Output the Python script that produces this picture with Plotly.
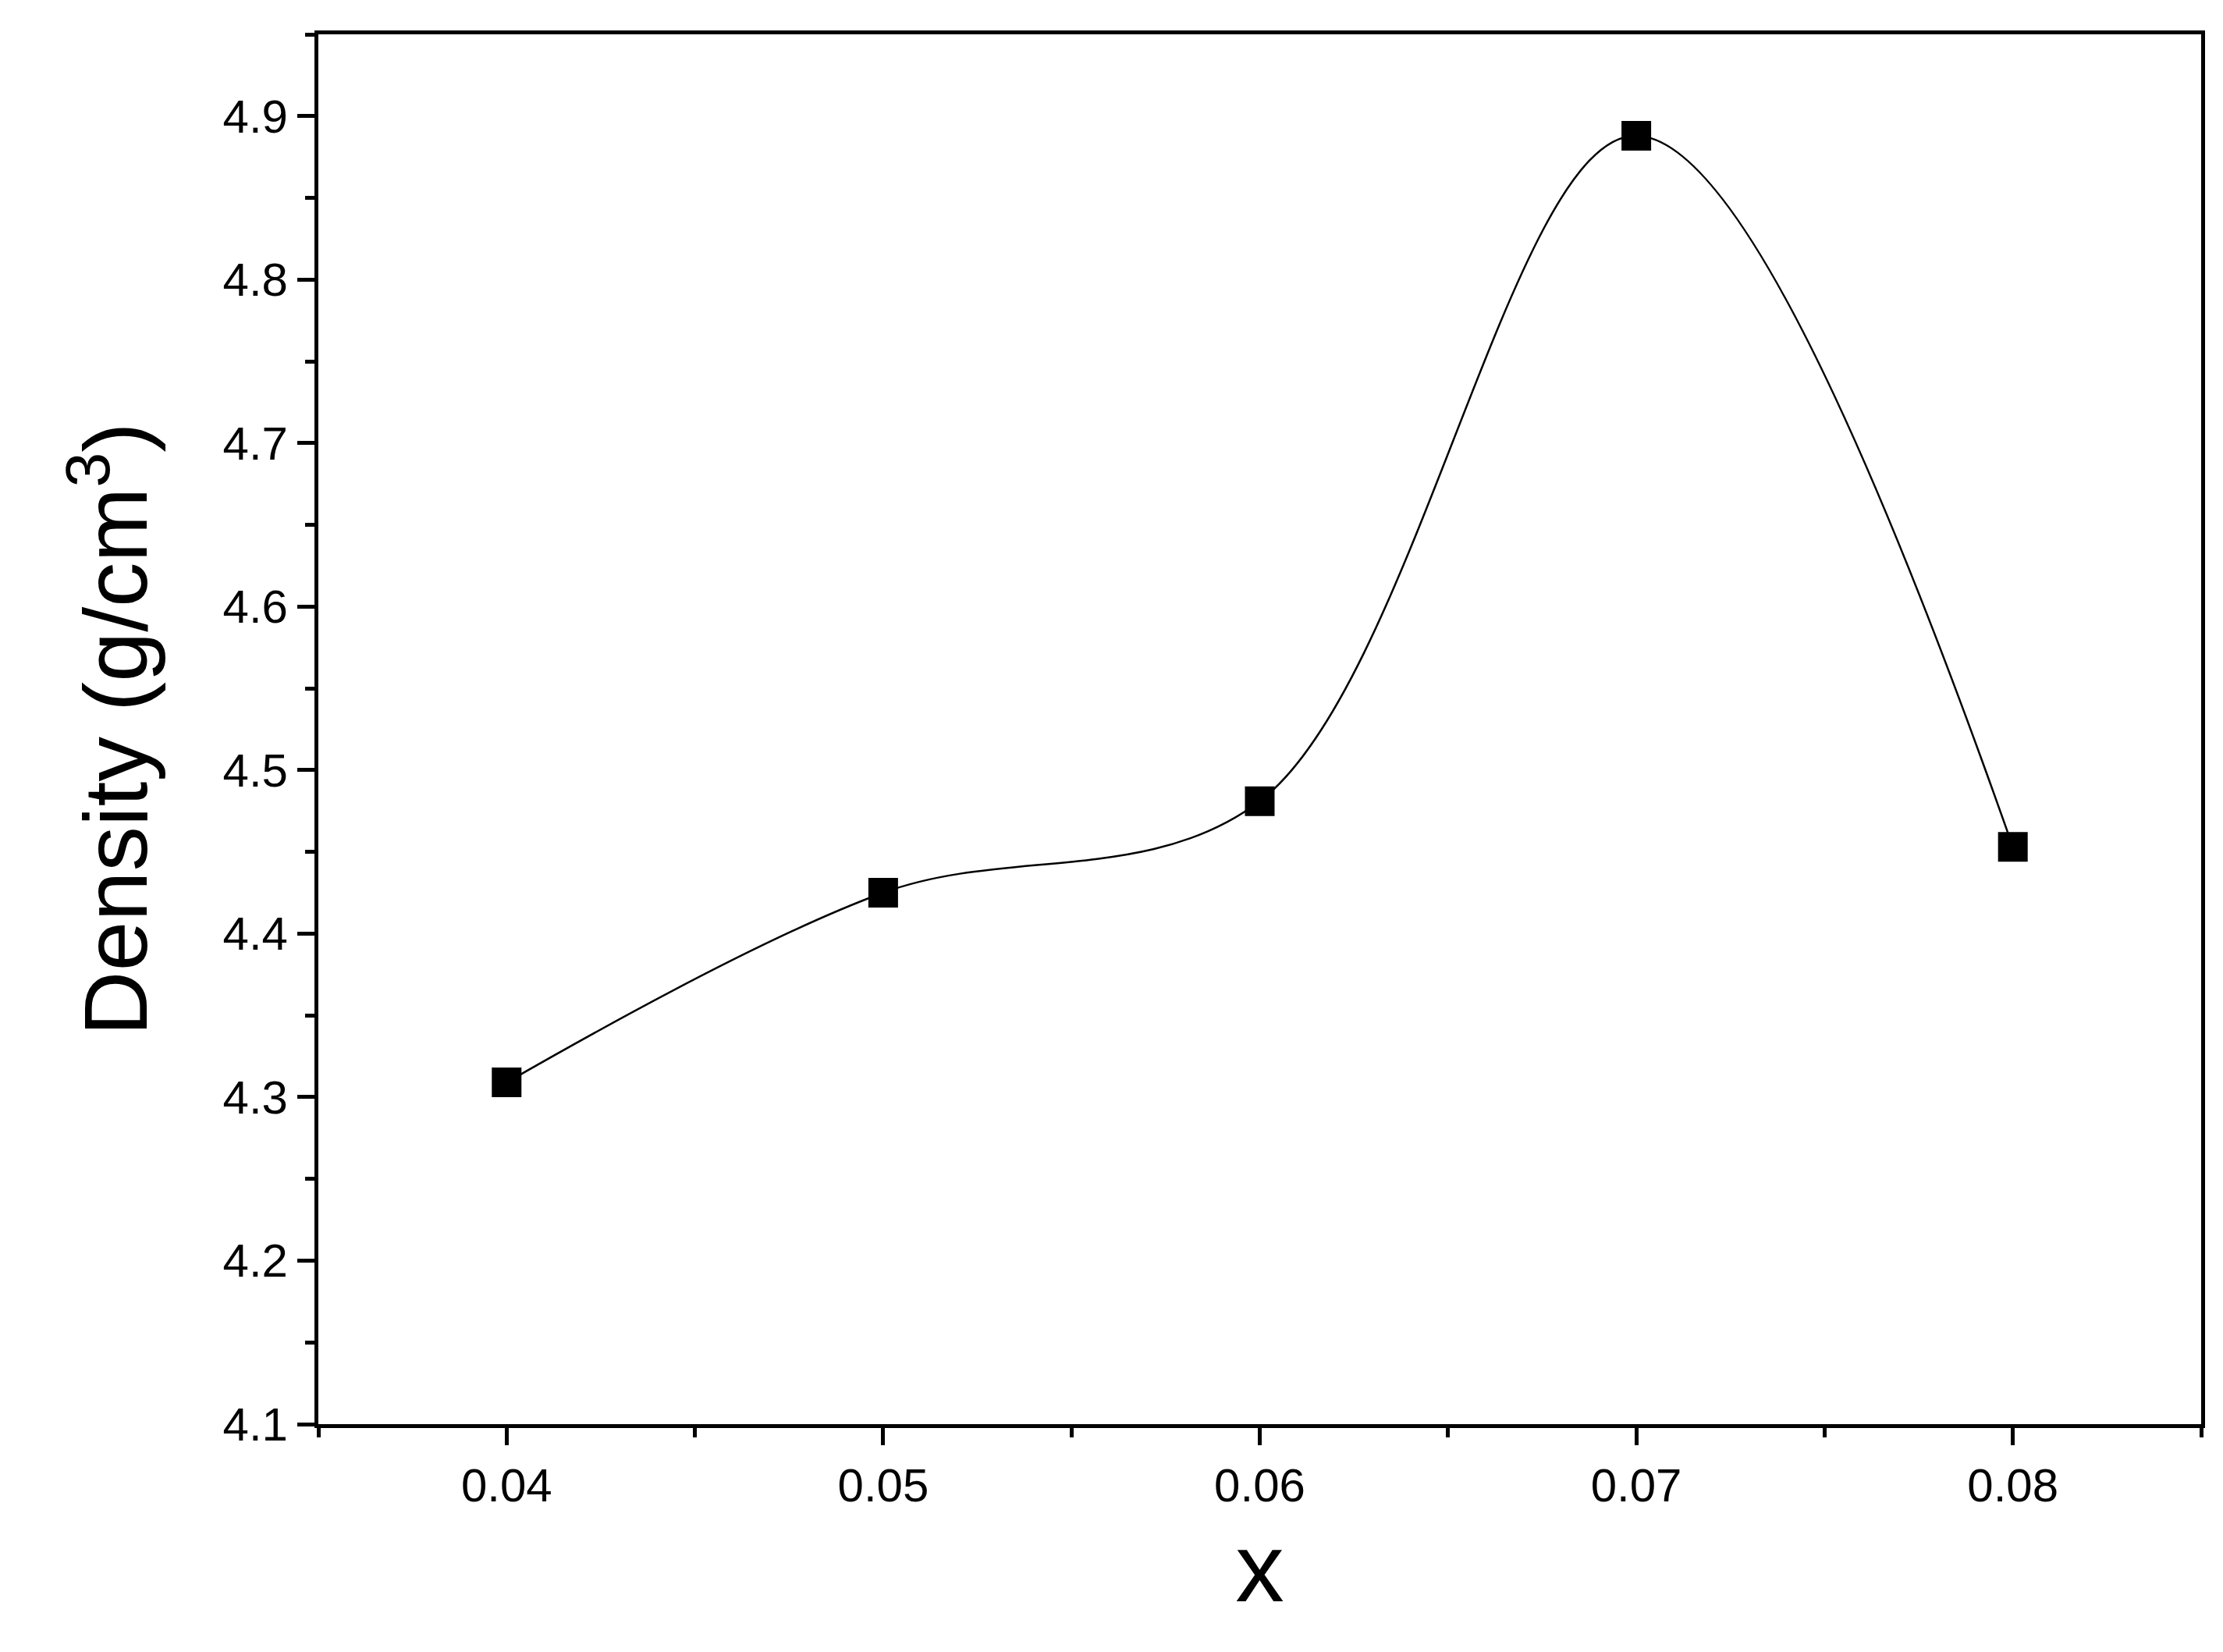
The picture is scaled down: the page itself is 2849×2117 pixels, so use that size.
import plotly.graph_objects as go

x_vals = [0.04, 0.05, 0.06, 0.07, 0.08]
density = [4.309, 4.425, 4.481, 4.888, 4.453]
x_ticks = [0.04, 0.05, 0.06, 0.07, 0.08]
x_labels = ["0.04", "0.05", "0.06", "0.07", "0.08"]
y_ticks = [4.1, 4.2, 4.3, 4.4, 4.5, 4.6, 4.7, 4.8, 4.9]
y_labels = ["4.1", "4.2", "4.3", "4.4", "4.5", "4.6", "4.7", "4.8", "4.9"]

fig = go.Figure()
fig.add_trace(go.Scatter(x=x_vals, y=density, mode="lines",
                         line=dict(shape="spline", smoothing=1.0, color="black", width=2.5),
                         showlegend=False))
fig.add_trace(go.Scatter(x=x_vals, y=density, mode="markers",
                         marker=dict(symbol="square", size=38, color="black"),
                         showlegend=False))

font = "Liberation Sans, Arial, sans-serif"
fig.update_layout(
    width=2849, height=2117,
    margin=dict(l=400, r=36, t=36, b=300),
    plot_bgcolor="white", paper_bgcolor="white",
    font=dict(family=font, color="black"),
)
fig.update_xaxes(range=[0.035, 0.085], tickvals=x_ticks, ticktext=x_labels,
                 ticks="outside", ticklen=22, tickwidth=5, tickcolor="black",
                 minor=dict(dtick=0.005, tick0=0.035, ticks="outside", ticklen=12, tickwidth=5, tickcolor="black"),
                 showline=True, linewidth=5, linecolor="black", mirror=True,
                 showgrid=False, zeroline=False, tickfont=dict(size=60),
                 title=dict(text="x", font=dict(size=125), standoff=30))
fig.update_yaxes(range=[4.1, 4.95], tickvals=y_ticks, ticktext=y_labels,
                 ticks="outside", ticklen=22, tickwidth=5, tickcolor="black",
                 minor=dict(dtick=0.05, tick0=4.1, ticks="outside", ticklen=12, tickwidth=5, tickcolor="black"),
                 showline=True, linewidth=5, linecolor="black", mirror=True,
                 showgrid=False, zeroline=False, tickfont=dict(size=60),
                 title=dict(text="Density (g/cm<sup>3</sup>)", font=dict(size=115), standoff=60))

fig.write_html("out.html")
